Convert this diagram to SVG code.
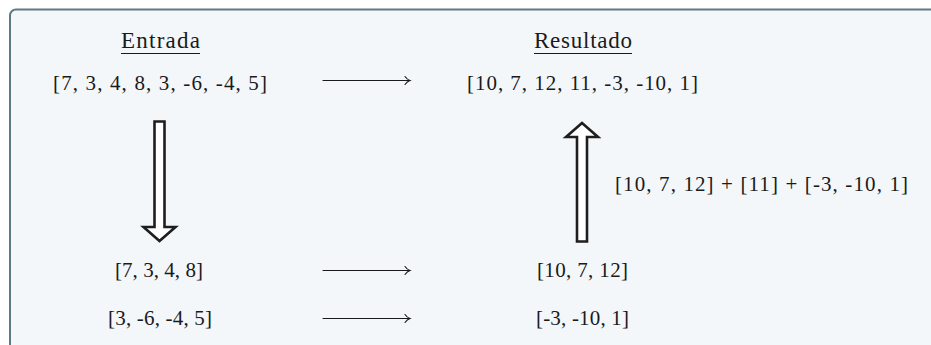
<svg xmlns="http://www.w3.org/2000/svg" width="931" height="345" viewBox="0 0 931 345">
<style>
.t{font-family:"Liberation Serif","Times New Roman",serif;font-size:21px;fill:#1a1a1a}
.h{font-size:23px}
.u{stroke:#1a1a1a;stroke-width:1}
.la{stroke:#1a1a1a;stroke-width:1.1;fill:none;stroke-linecap:round;stroke-linejoin:round}
.big{fill:#ffffff;stroke:#1e1e1e;stroke-width:2.6;stroke-linejoin:miter}
</style>
<defs>
<marker id="hook" markerWidth="10" markerHeight="10" refX="8" refY="5" orient="auto" markerUnits="userSpaceOnUse">
<path d="M3,1 Q5,4 8,5 Q5,6 3,9" fill="none" stroke="#1a1a1a" stroke-width="1.1" stroke-linecap="round"/>
</marker>
</defs>
<rect x="10" y="9.5" width="940" height="360" rx="6" fill="#f4f7fa" stroke="#5b7b80" stroke-width="2"/>

<g id="entrada-title">
<text class="t h" x="121" y="48" textLength="79" lengthAdjust="spacing">Entrada</text>
<line class="u" x1="121" y1="53.5" x2="200" y2="53.5"/>
</g>
<g id="resultado-title">
<text class="t h" x="534" y="48" textLength="98" lengthAdjust="spacing">Resultado</text>
<line class="u" x1="534" y1="53.5" x2="632" y2="53.5"/>
</g>
<g id="entrada">
<text class="t" x="53" y="90" textLength="214" lengthAdjust="spacing">[7, 3, 4, 8, 3, -6, -4, 5]</text>
</g>
<g id="resultado">
<text class="t" x="467" y="90" textLength="231" lengthAdjust="spacing">[10, 7, 12, 11, -3, -10, 1]</text>
</g>
<g id="left1">
<text class="t" x="115" y="277" textLength="88" lengthAdjust="spacing">[7, 3, 4, 8]</text>
</g>
<g id="right1">
<text class="t" x="537" y="277" textLength="91" lengthAdjust="spacing">[10, 7, 12]</text>
</g>
<g id="left2">
<text class="t" x="108" y="325" textLength="104" lengthAdjust="spacing">[3, -6, -4, 5]</text>
</g>
<g id="right2">
<text class="t" x="536" y="325" textLength="93" lengthAdjust="spacing">[-3, -10, 1]</text>
</g>
<g id="combine-label">
<text class="t" x="615" y="191" textLength="293" lengthAdjust="spacing">[10, 7, 12] + [11] + [-3, -10, 1]</text>
</g>

<g id="connectors">
<line class="la" x1="323" y1="80.5" x2="410" y2="80.5" marker-end="url(#hook)"/>
<line class="la" x1="323" y1="270.5" x2="410" y2="270.5" marker-end="url(#hook)"/>
<line class="la" x1="323" y1="318.5" x2="410" y2="318.5" marker-end="url(#hook)"/>
<path class="big" d="M154.5,121.5 H164.5 V227 H175.5 L159.5,241 L143.5,227 H154.5 Z"/>
<path class="big" d="M577,241.5 H587 V137 H598 L582,123 L566,137 H577 Z"/>
</g>
</svg>
